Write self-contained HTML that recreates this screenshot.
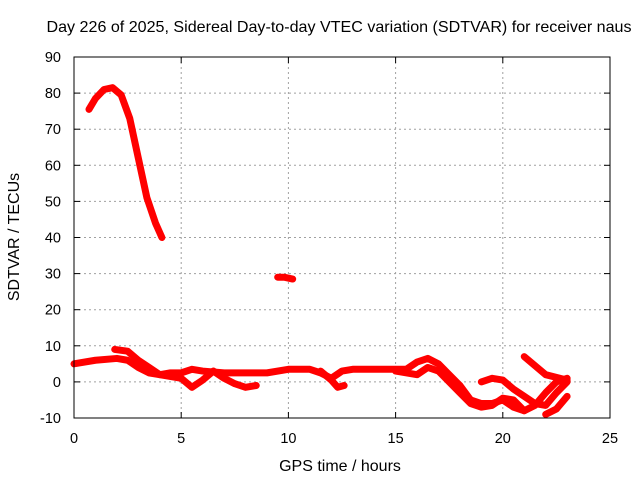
<!DOCTYPE html>
<html><head><meta charset="utf-8"><style>
body{margin:0;background:#fff}
svg{display:block;font-family:"Liberation Sans",sans-serif;font-size:14.5px}
</style></head><body>
<svg id="chart" width="640" height="480" xmlns="http://www.w3.org/2000/svg">
<rect width="640" height="480" fill="#fff"/>
<text x="339" y="32" text-anchor="middle" font-size="16" textLength="585" lengthAdjust="spacingAndGlyphs">Day 226 of 2025, Sidereal Day-to-day VTEC variation (SDTVAR) for receiver naus</text>
<text x="340" y="471" text-anchor="middle" font-size="16">GPS time / hours</text>
<text transform="translate(19,237) rotate(-90)" text-anchor="middle" font-size="16">SDTVAR / TECUs</text>
<g id="grid"></g><g id="ticks"></g><g id="series"></g>
<rect x="74" y="57" width="536" height="361" fill="none" stroke="#000" stroke-width="1"/>
</svg>
<script>
const xTicks=[0,5,10,15,20,25];
const yTicks=[-10,0,10,20,30,40,50,60,70,80,90];
const arcX=[0.7,1.0,1.4,1.8,2.2,2.6,3.0,3.4,3.8,4.1];
const arcY=[75.5,78.5,81,81.5,79.5,73,62,51,44,40];
const blobX=[9.5,9.8,10.2];
const blobY=[29,29,28.5];
const t1X=[0,1,2,2.5,3,3.5,4,4.5,5,5.5,6,7,8,9,10,11,11.5,12,12.5,13,14,15,15.5,16,16.5,17,17.5,18,18.5,19,19.5,20,20.5,21,21.5,22,22.5,23];
const t1Y=[5,6,6.5,6,4,2.5,2,2.5,2.5,3.5,3,2.5,2.5,2.5,3.5,3.5,2.5,1,3,3.5,3.5,3.5,3.5,5.5,6.5,5,2,-1,-5,-6,-6,-5,-7,-8,-6.5,-3,0,1];
const t2X=[1.9,2.5,3,3.5,4,5,5.5,6,6.5,7,7.5,8,8.5];
const t2Y=[9,8.5,6,4,2,1,-1.5,0.5,3,1,-0.5,-1.5,-1];
const t3X=[15,16,16.5,17,17.5,18,18.5,19,19.5,20,20.5,21];
const t3Y=[3,2,4,3,0,-3,-6,-7,-6.5,-4.5,-5,-8];
const t4X=[19,19.5,20,20.5,21,21.5,22,22.5,23];
const t4Y=[0,1,0.5,-2,-4,-6,-6.5,-3,0];
const t5X=[21,22,23];
const t5Y=[7,2,0.5];
const t6X=[22,22.5,23];
const t6Y=[-9,-7.5,-4];
const t7X=[11.5,12,12.3,12.6];
const t7Y=[3,0.5,-1.5,-1];
const NS="http://www.w3.org/2000/svg";
const sx=v=>74+v*536/25;
const sy=v=>418-(v+10)*361/100;
function mk(tag,attrs,parent){const e=document.createElementNS(NS,tag);for(const k in attrs)e.setAttribute(k,attrs[k]);parent.appendChild(e);return e;}
const G=document.getElementById('grid'),T=document.getElementById('ticks'),S=document.getElementById('series');
xTicks.forEach(v=>{
 if(v>0&&v<25){const l=mk('line',{x1:sx(v),x2:sx(v),y1:57,y2:418,stroke:'#a0a0a0','stroke-dasharray':'2,3'},G);
 
 }
 mk('line',{x1:sx(v),x2:sx(v),y1:418,y2:412,stroke:'#000'},T);
 mk('line',{x1:sx(v),x2:sx(v),y1:57,y2:63,stroke:'#000'},T);
 const t=mk('text',{x:sx(v),y:443,'text-anchor':'middle'},T);t.textContent=v;
 
 
});
yTicks.forEach(v=>{
 if(v>-10&&v<90){const l=mk('line',{x1:74,x2:610,y1:sy(v),y2:sy(v),stroke:'#a0a0a0','stroke-dasharray':'2,3'},G);
 
 }
 mk('line',{x1:74,x2:80,y1:sy(v),y2:sy(v),stroke:'#000'},T);
 mk('line',{x1:610,x2:604,y1:sy(v),y2:sy(v),stroke:'#000'},T);
 const t=mk('text',{x:61,y:sy(v)+5,'text-anchor':'end'},T);t.textContent=v;
 
 
});
const series=[[arcX,arcY,'arc'],[blobX,blobY,'blob'],[t1X,t1Y,'track-1'],[t2X,t2Y,'track-2'],[t3X,t3Y,'track-3'],[t4X,t4Y,'track-4'],[t5X,t5Y,'track-5'],[t6X,t6Y,'track-6'],[t7X,t7Y,'track-7']];
series.forEach(([xs,ys,n])=>{
 const p=mk('polyline',{points:xs.map((x,i)=>sx(x)+','+sy(ys[i])).join(' '),fill:'none',stroke:'#ff0000','stroke-width':7,'stroke-linejoin':'round','stroke-linecap':'round'},S);
 
 
});
</script>
</body></html>
